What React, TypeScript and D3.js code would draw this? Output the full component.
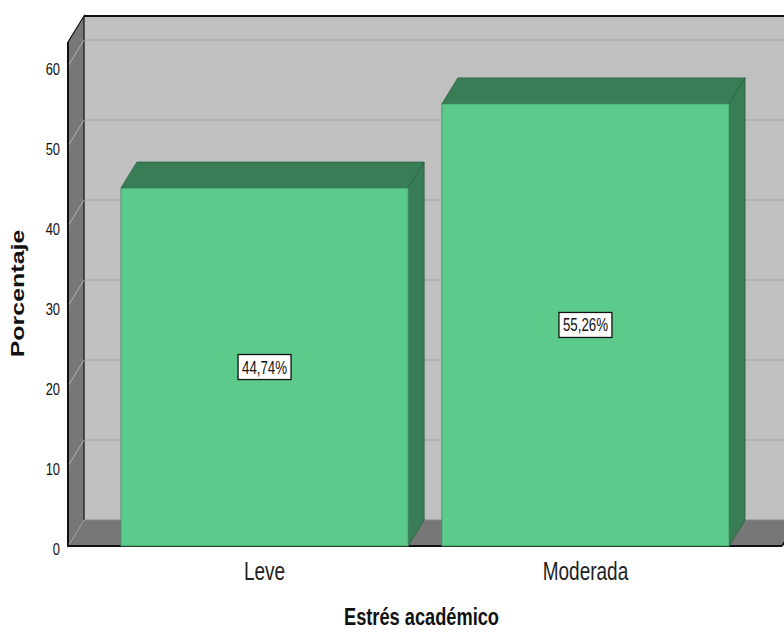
import React from "react";
import * as d3 from "d3";

// Distribution of academic stress levels (percent of respondents)
const categories = ["Leve", "Moderada"];
const percentages = [44.74, 55.26];
const valueLabels = ["44,74%", "55,26%"];
const yTicks = [0, 10, 20, 30, 40, 50, 60];

const W = 784;
const H = 632;
// oblique depth of the 3D box
const DX = 16;
const DY = -26;
// horizontal squeeze applied to all text
const SQ = 0.76;

const wallColor = "#c0c0c0";
const sideWallColor = "#777777";
const barFront = "#5bca8b";
const barDark = "#387d55";

const sans = "'Liberation Sans', Arial, sans-serif";

type TProps = {
  x: number;
  y: number;
  size: number;
  anchor?: "start" | "middle" | "end";
  bold?: boolean;
  rotate?: number;
  fill?: string;
  children: React.ReactNode;
};

function CText({ x, y, size, anchor = "middle", bold, rotate = 0, fill = "#111", children }: TProps) {
  return (
    <g transform={`translate(${x},${y}) scale(${SQ},1) rotate(${rotate})`}>
      <text
        x={0}
        y={0}
        textAnchor={anchor}
        fontFamily={sans}
        fontWeight={bold ? "bold" : "normal"}
        fontSize={size}
        fill={fill}
      >
        {children}
      </text>
    </g>
  );
}

export default function App() {
  const y = d3.scaleLinear().domain([0, 63]).range([546, 42]);
  const x = d3
    .scaleBand<string>()
    .domain(categories)
    .range([68, 782])
    .paddingInner(0.105)
    .paddingOuter(0.165);

  const y0 = y(0);
  const yTop = y(63);
  const xL = 68;
  const xR = 782;

  return (
    <svg
      width={W}
      height={H}
      style={{ position: "absolute", left: 0, top: 0, background: "#ffffff" }}
    >
      {/* back wall */}
      <rect x={xL + DX} y={yTop + DY} width={W} height={y0 - yTop} fill={wallColor} />
      {yTicks.slice(1).map((t) => (
        <line
          key={"bg" + t}
          x1={xL + DX}
          x2={W + 20}
          y1={y(t) + DY}
          y2={y(t) + DY}
          stroke="#aeaeae"
          strokeWidth={1.5}
        />
      ))}
      <line x1={xL + DX} x2={W + 20} y1={yTop + DY} y2={yTop + DY} stroke="#111" strokeWidth={2} />

      {/* left side wall */}
      <polygon
        points={`${xL},${yTop} ${xL + DX},${yTop + DY} ${xL + DX},${y0 + DY} ${xL},${y0}`}
        fill={sideWallColor}
        stroke="#111"
        strokeWidth={1.2}
      />
      {yTicks.slice(1).map((t) => (
        <line
          key={"sg" + t}
          x1={xL}
          y1={y(t)}
          x2={xL + DX}
          y2={y(t) + DY}
          stroke="#a6a6a6"
          strokeWidth={1.2}
        />
      ))}

      {/* floor */}
      <polygon
        points={`${xL},${y0} ${xL + DX},${y0 + DY} ${xR + DX + 20},${y0 + DY} ${xR},${y0}`}
        fill={sideWallColor}
      />
      <line x1={xL + DX} x2={W + 20} y1={y0 + DY} y2={y0 + DY} stroke="#8a8a8a" strokeWidth={1} />
      <line x1={xL} y1={y0} x2={xL + DX} y2={y0 + DY} stroke="#a6a6a6" strokeWidth={1.2} />
      <line x1={xR} y1={y0} x2={xR + DX} y2={y0 + DY} stroke="#111" strokeWidth={1.5} />
      <line x1={xL} x2={xR} y1={y0} y2={y0} stroke="#111" strokeWidth={2} />
      <line x1={xL} x2={xL} y1={yTop} y2={y0} stroke="#111" strokeWidth={2} />

      {/* bars */}
      {categories.map((c, i) => {
        const bx = x(c)!;
        const bw = x.bandwidth();
        const by = y(percentages[i]);
        return (
          <g key={c}>
            <polygon
              points={`${bx},${by} ${bx + DX},${by + DY} ${bx + bw + DX},${by + DY} ${bx + bw},${by}`}
              fill={barDark}
              stroke="#2c5f41"
              strokeWidth={0.8}
            />
            <polygon
              points={`${bx + bw},${by} ${bx + bw + DX},${by + DY} ${bx + bw + DX},${y0 + DY} ${bx + bw},${y0}`}
              fill={barDark}
              stroke="#2c5f41"
              strokeWidth={0.8}
            />
            <rect
              x={bx}
              y={by}
              width={bw}
              height={y0 - by}
              fill={barFront}
              stroke="#3f8f60"
              strokeWidth={0.8}
            />
          </g>
        );
      })}

      {/* value labels */}
      {categories.map((c, i) => {
        const cx = x(c)! + x.bandwidth() / 2;
        const cy = (y(percentages[i]) + y0) / 2;
        return (
          <g key={"lbl" + c}>
            <rect x={cx - 26.5} y={cy - 12.5} width={53} height={25} fill="#ffffff" stroke="#111" strokeWidth={1.3} />
            <CText x={cx} y={cy + 6.5} size={17.5}>
              {valueLabels[i]}
            </CText>
          </g>
        );
      })}

      {/* y tick labels */}
      {yTicks.map((t) => (
        <CText key={"yt" + t} x={60} y={y(t) + 8.5} size={17} anchor="end">
          {t}
        </CText>
      ))}

      {/* category labels */}
      {categories.map((c) => (
        <CText key={"xl" + c} x={x(c)! + x.bandwidth() / 2} y={580} size={25} fill="#222">
          {c}
        </CText>
      ))}

      {/* axis titles */}
      <CText x={421.5} y={625} size={24} bold>
        Estrés académico
      </CText>
      <CText x={23.5} y={293.5} size={25} bold rotate={-90}>
        Porcentaje
      </CText>
    </svg>
  );
}
